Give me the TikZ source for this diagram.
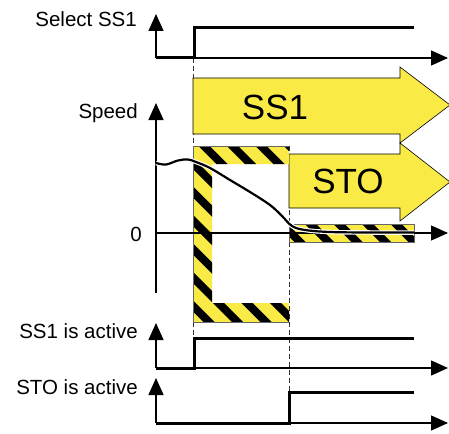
\documentclass[tikz,border=0pt]{standalone}
\usepackage{fontspec}
\setmainfont{Liberation Sans}
\usetikzlibrary{arrows.meta}
\definecolor{hazyellow}{RGB}{250,234,70}
\begin{document}
\begin{tikzpicture}[x=1pt,y=-1pt,
  axis/.style={line width=1.3pt,-{Triangle[length=17pt,width=15pt]}},
  signal/.style={line width=3pt, line join=miter},
  guide/.style={line width=0.7pt, dash pattern=on 5pt off 3pt, black!80},
  label/.style={font=\fontsize{20.5}{24}\selectfont, anchor=base east, inner sep=0pt},
  big/.style={font=\fontsize{35}{40}\selectfont, anchor=base, inner sep=0pt},
  arrowbox/.style={fill=hazyellow, draw=black, line width=0.6pt, line join=miter},
  stripes/.style={line width=8pt},
  hazedge/.style={line width=0.5pt, black!60}
]
\useasboundingbox (0,0) rectangle (449,433);

% guide lines
\draw[guide] (193.5,58) -- (193.5,368);
\draw[guide] (289,146) -- (289,423);

% SS1 and STO arrows
\draw[arrowbox] (193,78) -- (400,78) -- (400,67) -- (450,105) -- (400,143) -- (400,134) -- (193,134) -- cycle;
\draw[arrowbox] (289,154) -- (400,154) -- (400,143) -- (450,182) -- (400,221) -- (400,208) -- (289,208) -- cycle;
\node[big] (ss1txt) at (275,119) {SS1};
\node[big] (stotxt) at (348,193) {STO};

% hazard frame
\begin{scope}
  \clip (193,146) -- (289,146) -- (289,164) -- (212,164) -- (212,303) -- (289,303) -- (289,322) -- (193,322) -- cycle;
  \fill[hazyellow] (193,146) rectangle (289,322);
  \foreach \k in {-9,...,6} \draw[stripes] (58+28.5*\k,0) -- ++(450,450);
\end{scope}
\draw[hazedge] (289,146) -- (193,146) -- (193,322) -- (289,322);

% hazard strip at zero
\begin{scope}
  \clip (289,224) rectangle (414,242);
  \fill[hazyellow] (289,224) rectangle (414,242);
  \foreach \k in {-9,...,6} \draw[stripes] (58+28.5*\k,0) -- ++(450,450);
\end{scope}
\draw[hazedge] (289,224) rectangle (414,242);

% axes
\draw[axis] (156,58) -- (156,14);
\draw[axis] (156,58) -- (448,58);
\draw[axis] (156,293) -- (156,103);
\draw[axis] (156,233) -- (448,233);
\draw[axis] (156,368) -- (156,323);
\draw[axis] (156,368) -- (448,368);
\draw[axis] (156,423) -- (156,378);
\draw[axis] (156,423) -- (448,423);

% signals
\draw[signal] (156,58) -- (194,58) -- (194,28) -- (414,28);
\draw[signal] (156,368) -- (194,368) -- (194,338) -- (414,338);
\draw[signal] (156,423) -- (289,423) -- (289,392) -- (414,392);

% speed curve
\draw[white, line width=4.5pt] plot[smooth, tension=0.6] coordinates {(156,163) (166,164.5) (178,160.5) (188,159.5) (196,162) (210,168) (230,180) (250,192) (270,205) (282,216) (292,226) (305,230) (330,232) (370,232.5) (414,232.5)};
\draw[black, line width=2.2pt] plot[smooth, tension=0.6] coordinates {(156,163) (166,164.5) (178,160.5) (188,159.5) (196,162) (210,168) (230,180) (250,192) (270,205) (282,216) (292,226) (305,230) (330,232) (370,232.5) (414,232.5)};

% labels
\node[label] (selss1) at (137,27) {Select SS1};
\node[label] (speed) at (138,118) {Speed};
\node[label] (zero) at (142,241) {0};
\node[label] (ss1act) at (138,338) {SS1 is active};
\node[label] (stoact) at (138,394) {STO is active};
\end{tikzpicture}
\end{document}
